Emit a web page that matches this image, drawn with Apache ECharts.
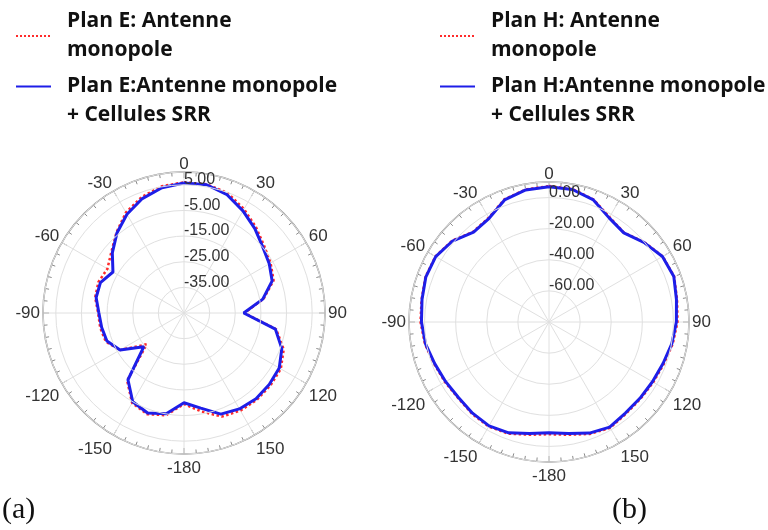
<!DOCTYPE html>
<html>
<head>
<meta charset="utf-8">
<script src="https://cdn.jsdelivr.net/npm/echarts@6/dist/echarts.min.js"></script>
<style>
html, body { margin: 0; padding: 0; background: #fff; }
#chart { width: 768px; height: 530px; }
</style>
</head>
<body>
<div id="chart"></div>
<script>
// angles in degrees, 0 at top, clockwise
var angles = [-180, -170, -160, -150, -140, -130, -120, -110, -100, -90, -80, -70, -60, -50, -40, -30, -20, -10,
              0, 10, 20, 30, 40, 50, 60, 70, 80, 90, 100, 110, 120, 130, 140, 150, 160, 170];

// Plan E (dB)
var eMono = [-9.5, -4.5, -3.0, -4.5, -10.5, -26.0, -16.0, -12.5, -11.8, -11.5, -9.8, -9.5, -10.5, -8.0, -4.0, 0.3, 3.2, 5.2,
             6.0, 6.0, 4.8, 1.8, -1.3, -4.2, -6.0, -7.8, -13.5, -21.5, -8.5, -3.6, -1.4, -1.0, -0.8, -1.0, -2.0, -6.0];
var eSrr = [-10.0, -5.1, -3.5, -5.0, -11.0, -24.5, -16.2, -13.0, -12.4, -11.8, -10.2, -10.3, -13.0, -8.5, -4.3, -0.5, 2.5, 4.6,
            5.7, 5.8, 4.1, 1.0, -2.0, -4.9, -6.6, -8.4, -13.8, -21.7, -8.8, -4.4, -2.1, -1.6, -1.3, -1.8, -3.0, -7.3];

// Plan H (dB)
var hMono = [-7.8, -6.4, -3.6, -2.4, -3.0, -3.8, -2.8, -1.4, 1.0, 2.6, 3.2, 4.5, 4.3, 1.3, -4.2, -2.6, 3.9, 6.5,
             7.4, 6.8, 3.8, -2.2, -5.0, -0.2, 4.4, 5.6, 3.6, 2.6, 0.8, -1.4, -2.6, -3.2, -3.0, -1.4, -3.4, -6.4];
var hSrr = [-8.8, -7.2, -4.2, -2.9, -3.5, -4.2, -3.3, -1.8, 0.6, 2.0, 2.9, 4.3, 4.1, 1.0, -4.6, -3.0, 3.5, 6.2,
            7.0, 6.5, 3.5, -2.7, -5.2, -0.4, 4.2, 5.4, 3.2, 1.9, 0.2, -2.0, -3.2, -3.7, -3.6, -2.0, -4.0, -7.2];

// radius scales and tick labels
var eRange = [-45, 10];
var hRange = [-80, 10];
var eTicks = [-35, -25, -15, -5, 5];
var hTicks = [-60, -40, -20, 0];

var names = [
    'Plan E: Antenne\nmonopole',
    'Plan E:Antenne monopole\n+ Cellules SRR',
    'Plan H: Antenne\nmonopole',
    'Plan H:Antenne monopole\n+ Cellules SRR'
];

var RED = '#ff2b2b';
var BLUE = '#1e1ee8';

function polarData(vals, base) {
    var pts = angles.map(function(a, i) {
        return [vals[i] - base, a < 0 ? a + 360 : a];
    });
    pts.sort(function(p, q) { return p[1] - q[1]; });
    pts.push([pts[0][0], 360]);
    return pts;
}

function angleAxis(idx) {
    return {
        polarIndex: idx,
        type: 'value',
        min: 0,
        max: 360,
        interval: 30,
        startAngle: 90,
        clockwise: true,
        axisLine: { lineStyle: { color: '#8c8c8c', width: 1.5 } },
        axisTick: { inside: true, length: 6, lineStyle: { color: '#8c8c8c' } },
        minorTick: { show: true, splitNumber: 6, length: 4, lineStyle: { color: '#8c8c8c' } },
        splitLine: { lineStyle: { color: '#e0e0e0' } },
        axisLabel: {
            color: '#333',
            fontSize: 17,
            fontFamily: 'Liberation Sans',
            margin: 3,
            padding: [3, 0, -4, 0],
            formatter: function(v) {
                if (v === 360) return '';
                if (v === 180) return '-180';
                return String(v > 180 ? v - 360 : v);
            }
        }
    };
}

function radiusAxis(idx, range, ticks, step) {
    var base = range[0];
    return {
        polarIndex: idx,
        type: 'value',
        min: 0,
        max: range[1] - base,
        interval: step,
        axisLine: { show: false },
        axisTick: { show: false },
        splitLine: { lineStyle: { color: '#e0e0e0' } },
        axisLabel: {
            color: '#333',
            fontSize: 16,
            fontFamily: 'Liberation Sans',
            align: 'left',
            verticalAlign: 'bottom',
            padding: [0, 0, -3, 0],
            margin: 0,
            formatter: function(v) {
                var dB = Math.round(v + base);
                return ticks.indexOf(dB) >= 0 ? dB.toFixed(2) : '';
            }
        },
        z: 5
    };
}

function series(name, idx, vals, base, color, dotted) {
    return {
        name: name,
        type: 'line',
        coordinateSystem: 'polar',
        polarIndex: idx,
        data: polarData(vals, base),
        symbol: 'none',
        showSymbol: false,
        smooth: false,
        itemStyle: { color: color },
        lineStyle: { color: color, width: dotted ? 2.5 : 3, type: dotted ? 'dotted' : 'solid' },
        z: dotted ? 2 : 3
    };
}

function legend(list, left) {
    return {
        data: list,
        orient: 'vertical',
        left: left,
        top: 7,
        padding: 0,
        itemWidth: 35,
        itemHeight: 12,
        itemGap: -22,
        itemStyle: { opacity: 0 },
        // the second entry's sample line sits next to its first text line
        formatter: function(name) {
            return name === list[1] ? '\n' + name : name;
        },
        textStyle: {
            fontFamily: 'Open Sans',
            fontWeight: 'bold',
            fontSize: 21,
            color: '#111',
            lineHeight: 29,
            padding: [0, 0, 0, 11]
        }
    };
}

var chart = echarts.init(document.getElementById('chart'));
chart.setOption({
    animation: false,
    backgroundColor: '#fff',
    legend: [legend([names[0], names[1]], 15), legend([names[2], names[3]], 439)],
    polar: [
        { center: [184, 313], radius: 141 },
        { center: [549, 322], radius: 140 }
    ],
    angleAxis: [angleAxis(0), angleAxis(1)],
    radiusAxis: [
        radiusAxis(0, eRange, eTicks, 10),
        radiusAxis(1, hRange, hTicks, 20)
    ],
    series: [
        series(names[0], 0, eMono, eRange[0], RED, true),
        series(names[1], 0, eSrr, eRange[0], BLUE, false),
        series(names[2], 1, hMono, hRange[0], RED, true),
        series(names[3], 1, hSrr, hRange[0], BLUE, false)
    ],
    graphic: [
        { type: 'text', left: 2, top: 495, style: { text: '(a)', font: '30px "Liberation Serif"', fill: '#111' } },
        { type: 'text', left: 612, top: 495, style: { text: '(b)', font: '30px "Liberation Serif"', fill: '#111' } }
    ]
});
</script>
</body>
</html>
